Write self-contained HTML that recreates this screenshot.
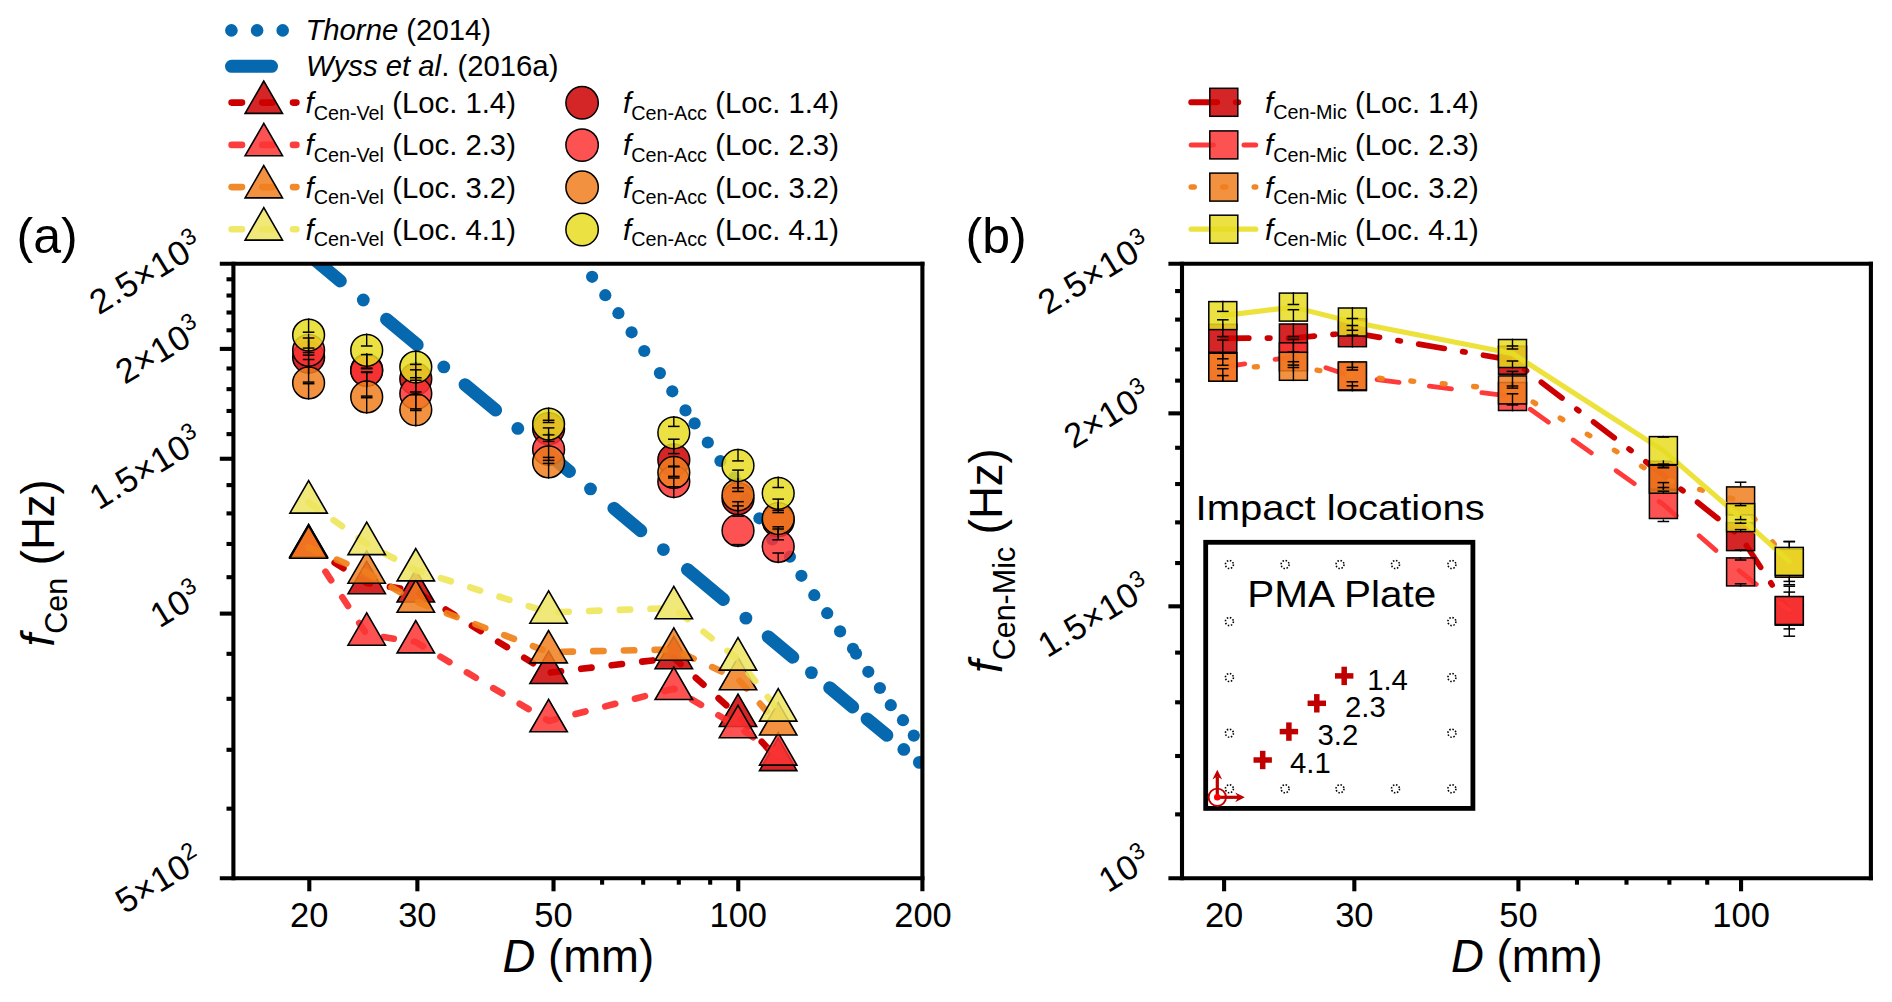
<!DOCTYPE html>
<html><head><meta charset="utf-8"><title>Centroid frequency</title><style>html,body{margin:0;padding:0;background:#fff;}svg{display:block;}</style></head><body>
<svg width="1892" height="1002" viewBox="0 0 1892 1002">
<rect x="0" y="0" width="1892" height="1002" fill="#fff"/>
<defs>
<clipPath id="clipA"><rect x="233.4" y="263.7" width="689.0" height="614.5999999999999"/></clipPath>
<clipPath id="clipB"><rect x="1182.0" y="263.7" width="688.9000000000001" height="614.5999999999999"/></clipPath>
</defs>
<g clip-path="url(#clipA)">
<circle cx="578.9" cy="258.0" r="6.1" fill="#0668ae"/>
<circle cx="592.1" cy="276.8" r="6.1" fill="#0668ae"/>
<circle cx="605.3" cy="295.2" r="6.1" fill="#0668ae"/>
<circle cx="618.4" cy="313.2" r="6.1" fill="#0668ae"/>
<circle cx="631.6" cy="332.3" r="6.1" fill="#0668ae"/>
<circle cx="644.3" cy="351.0" r="6.1" fill="#0668ae"/>
<circle cx="659.9" cy="373.1" r="6.1" fill="#0668ae"/>
<circle cx="672.3" cy="391.3" r="6.1" fill="#0668ae"/>
<circle cx="685.5" cy="410.4" r="6.1" fill="#0668ae"/>
<circle cx="694.6" cy="423.4" r="6.1" fill="#0668ae"/>
<circle cx="707.8" cy="442.5" r="6.1" fill="#0668ae"/>
<circle cx="720.4" cy="461.0" r="6.1" fill="#0668ae"/>
<circle cx="734.3" cy="477.6" r="6.1" fill="#0668ae"/>
<circle cx="746.5" cy="499.0" r="6.1" fill="#0668ae"/>
<circle cx="759.4" cy="518.3" r="6.1" fill="#0668ae"/>
<circle cx="772.3" cy="539.5" r="6.1" fill="#0668ae"/>
<circle cx="789.9" cy="556.7" r="6.1" fill="#0668ae"/>
<circle cx="801.4" cy="575.8" r="6.1" fill="#0668ae"/>
<circle cx="814.3" cy="595.2" r="6.1" fill="#0668ae"/>
<circle cx="827.2" cy="613.2" r="6.1" fill="#0668ae"/>
<circle cx="840.1" cy="631.4" r="6.1" fill="#0668ae"/>
<circle cx="853.0" cy="648.8" r="6.1" fill="#0668ae"/>
<circle cx="856.0" cy="653.6" r="6.1" fill="#0668ae"/>
<circle cx="868.3" cy="671.8" r="6.1" fill="#0668ae"/>
<circle cx="879.9" cy="688.0" r="6.1" fill="#0668ae"/>
<circle cx="890.8" cy="705.2" r="6.1" fill="#0668ae"/>
<circle cx="903.0" cy="720.2" r="6.1" fill="#0668ae"/>
<circle cx="913.8" cy="735.6" r="6.1" fill="#0668ae"/>
<line x1="300.00" y1="247.37" x2="340.30" y2="280.88" stroke="#0668ae" stroke-width="13" stroke-linecap="round" />
<line x1="386.50" y1="319.29" x2="417.20" y2="344.82" stroke="#0668ae" stroke-width="13" stroke-linecap="round" />
<line x1="465.10" y1="384.65" x2="495.60" y2="410.01" stroke="#0668ae" stroke-width="13" stroke-linecap="round" />
<line x1="546.00" y1="451.92" x2="569.50" y2="471.46" stroke="#0668ae" stroke-width="13" stroke-linecap="round" />
<line x1="613.90" y1="508.37" x2="640.80" y2="530.74" stroke="#0668ae" stroke-width="13" stroke-linecap="round" />
<line x1="687.50" y1="569.57" x2="723.40" y2="599.42" stroke="#0668ae" stroke-width="13" stroke-linecap="round" />
<line x1="768.20" y1="636.67" x2="792.80" y2="657.13" stroke="#0668ae" stroke-width="13" stroke-linecap="round" />
<line x1="829.70" y1="687.81" x2="852.70" y2="706.94" stroke="#0668ae" stroke-width="13" stroke-linecap="round" />
<line x1="867.10" y1="718.91" x2="886.90" y2="735.37" stroke="#0668ae" stroke-width="13" stroke-linecap="round" />
<circle cx="363.3" cy="300.00" r="6.4" fill="#0668ae"/>
<circle cx="443.8" cy="366.94" r="6.4" fill="#0668ae"/>
<circle cx="517.8" cy="428.47" r="6.4" fill="#0668ae"/>
<circle cx="590.5" cy="488.92" r="6.4" fill="#0668ae"/>
<circle cx="663.4" cy="549.53" r="6.4" fill="#0668ae"/>
<circle cx="745.9" cy="618.13" r="6.4" fill="#0668ae"/>
<circle cx="811.4" cy="672.60" r="6.4" fill="#0668ae"/>
<circle cx="903.8" cy="749.43" r="6.4" fill="#0668ae"/>
<circle cx="919.4" cy="762.40" r="6.4" fill="#0668ae"/>
</g>
<polyline points="308.60,546.50 366.70,582.90 415.80,591.20 548.60,672.70 673.80,657.90 738.00,715.70 778.20,759.80" fill="none" stroke="#cc0000" stroke-width="6.6" stroke-linecap="round" stroke-linejoin="round" stroke-dasharray="10.4 20.3" stroke-opacity="1.0"/>
<polygon points="308.60,524.91 289.90,557.30 327.30,557.30" fill="#cc0000" fill-opacity="0.85" stroke="#000" stroke-width="1.6" stroke-linejoin="miter"/>
<polygon points="366.70,561.31 348.00,593.70 385.40,593.70" fill="#cc0000" fill-opacity="0.85" stroke="#000" stroke-width="1.6" stroke-linejoin="miter"/>
<polygon points="415.80,569.61 397.10,602.00 434.50,602.00" fill="#cc0000" fill-opacity="0.85" stroke="#000" stroke-width="1.6" stroke-linejoin="miter"/>
<polygon points="548.60,651.11 529.90,683.50 567.30,683.50" fill="#cc0000" fill-opacity="0.85" stroke="#000" stroke-width="1.6" stroke-linejoin="miter"/>
<polygon points="673.80,636.31 655.10,668.70 692.50,668.70" fill="#cc0000" fill-opacity="0.85" stroke="#000" stroke-width="1.6" stroke-linejoin="miter"/>
<polygon points="738.00,694.11 719.30,726.50 756.70,726.50" fill="#cc0000" fill-opacity="0.85" stroke="#000" stroke-width="1.6" stroke-linejoin="miter"/>
<polygon points="778.20,738.21 759.50,770.60 796.90,770.60" fill="#cc0000" fill-opacity="0.85" stroke="#000" stroke-width="1.6" stroke-linejoin="miter"/>
<polyline points="308.60,546.00 366.70,634.40 415.80,642.10 548.60,721.00 673.80,688.70 738.00,726.90 778.20,754.30" fill="none" stroke="#fc2c2c" stroke-width="6.6" stroke-linecap="round" stroke-linejoin="round" stroke-dasharray="10.4 20.3" stroke-opacity="0.92"/>
<polygon points="308.60,524.41 289.90,556.80 327.30,556.80" fill="#fb3434" fill-opacity="0.85" stroke="#000" stroke-width="1.6" stroke-linejoin="miter"/>
<polygon points="366.70,612.81 348.00,645.20 385.40,645.20" fill="#fb3434" fill-opacity="0.85" stroke="#000" stroke-width="1.6" stroke-linejoin="miter"/>
<polygon points="415.80,620.51 397.10,652.90 434.50,652.90" fill="#fb3434" fill-opacity="0.85" stroke="#000" stroke-width="1.6" stroke-linejoin="miter"/>
<polygon points="548.60,699.41 529.90,731.80 567.30,731.80" fill="#fb3434" fill-opacity="0.85" stroke="#000" stroke-width="1.6" stroke-linejoin="miter"/>
<polygon points="673.80,667.11 655.10,699.50 692.50,699.50" fill="#fb3434" fill-opacity="0.85" stroke="#000" stroke-width="1.6" stroke-linejoin="miter"/>
<polygon points="738.00,705.31 719.30,737.70 756.70,737.70" fill="#fb3434" fill-opacity="0.85" stroke="#000" stroke-width="1.6" stroke-linejoin="miter"/>
<polygon points="778.20,732.71 759.50,765.10 796.90,765.10" fill="#fb3434" fill-opacity="0.85" stroke="#000" stroke-width="1.6" stroke-linejoin="miter"/>
<polyline points="308.60,547.50 366.70,572.40 415.80,601.50 548.60,652.10 673.80,649.50 738.00,679.00 778.20,724.20" fill="none" stroke="#f08018" stroke-width="6.6" stroke-linecap="round" stroke-linejoin="round" stroke-dasharray="10.4 20.3" stroke-opacity="0.92"/>
<polygon points="308.60,525.91 289.90,558.30 327.30,558.30" fill="#f07e1e" fill-opacity="0.85" stroke="#000" stroke-width="1.6" stroke-linejoin="miter"/>
<polygon points="366.70,550.81 348.00,583.20 385.40,583.20" fill="#f07e1e" fill-opacity="0.85" stroke="#000" stroke-width="1.6" stroke-linejoin="miter"/>
<polygon points="415.80,579.91 397.10,612.30 434.50,612.30" fill="#f07e1e" fill-opacity="0.85" stroke="#000" stroke-width="1.6" stroke-linejoin="miter"/>
<polygon points="548.60,630.51 529.90,662.90 567.30,662.90" fill="#f07e1e" fill-opacity="0.85" stroke="#000" stroke-width="1.6" stroke-linejoin="miter"/>
<polygon points="673.80,627.91 655.10,660.30 692.50,660.30" fill="#f07e1e" fill-opacity="0.85" stroke="#000" stroke-width="1.6" stroke-linejoin="miter"/>
<polygon points="738.00,657.41 719.30,689.80 756.70,689.80" fill="#f07e1e" fill-opacity="0.85" stroke="#000" stroke-width="1.6" stroke-linejoin="miter"/>
<polygon points="778.20,702.61 759.50,735.00 796.90,735.00" fill="#f07e1e" fill-opacity="0.85" stroke="#000" stroke-width="1.6" stroke-linejoin="miter"/>
<polyline points="308.60,502.30 366.70,543.80 415.80,570.10 548.60,612.40 673.80,608.00 738.00,659.30 778.20,710.30" fill="none" stroke="#eee558" stroke-width="6.6" stroke-linecap="round" stroke-linejoin="round" stroke-dasharray="10.4 20.3" stroke-opacity="0.9"/>
<polygon points="308.60,480.71 289.90,513.10 327.30,513.10" fill="#ede460" fill-opacity="0.85" stroke="#000" stroke-width="1.6" stroke-linejoin="miter"/>
<polygon points="366.70,522.21 348.00,554.60 385.40,554.60" fill="#ede460" fill-opacity="0.85" stroke="#000" stroke-width="1.6" stroke-linejoin="miter"/>
<polygon points="415.80,548.51 397.10,580.90 434.50,580.90" fill="#ede460" fill-opacity="0.85" stroke="#000" stroke-width="1.6" stroke-linejoin="miter"/>
<polygon points="548.60,590.81 529.90,623.20 567.30,623.20" fill="#ede460" fill-opacity="0.85" stroke="#000" stroke-width="1.6" stroke-linejoin="miter"/>
<polygon points="673.80,586.41 655.10,618.80 692.50,618.80" fill="#ede460" fill-opacity="0.85" stroke="#000" stroke-width="1.6" stroke-linejoin="miter"/>
<polygon points="738.00,637.71 719.30,670.10 756.70,670.10" fill="#ede460" fill-opacity="0.85" stroke="#000" stroke-width="1.6" stroke-linejoin="miter"/>
<polygon points="778.20,688.71 759.50,721.10 796.90,721.10" fill="#ede460" fill-opacity="0.85" stroke="#000" stroke-width="1.6" stroke-linejoin="miter"/>
<circle cx="308.6" cy="357.3" r="15.9" fill="#cc0000" fill-opacity="0.85" stroke="#000" stroke-width="1.5"/>
<circle cx="366.7" cy="370.0" r="15.9" fill="#cc0000" fill-opacity="0.85" stroke="#000" stroke-width="1.5"/>
<circle cx="415.8" cy="379.0" r="15.9" fill="#cc0000" fill-opacity="0.85" stroke="#000" stroke-width="1.5"/>
<circle cx="548.6" cy="428.7" r="15.9" fill="#cc0000" fill-opacity="0.85" stroke="#000" stroke-width="1.5"/>
<circle cx="673.8" cy="459.9" r="15.9" fill="#cc0000" fill-opacity="0.85" stroke="#000" stroke-width="1.5"/>
<circle cx="738.0" cy="498.7" r="15.9" fill="#cc0000" fill-opacity="0.85" stroke="#000" stroke-width="1.5"/>
<circle cx="778.2" cy="520.8" r="15.9" fill="#cc0000" fill-opacity="0.85" stroke="#000" stroke-width="1.5"/>
<circle cx="308.6" cy="350.3" r="15.9" fill="#fb3434" fill-opacity="0.85" stroke="#000" stroke-width="1.5"/>
<circle cx="366.7" cy="370.6" r="15.9" fill="#fb3434" fill-opacity="0.85" stroke="#000" stroke-width="1.5"/>
<circle cx="415.8" cy="393.4" r="15.9" fill="#fb3434" fill-opacity="0.85" stroke="#000" stroke-width="1.5"/>
<circle cx="548.6" cy="449.4" r="15.9" fill="#fb3434" fill-opacity="0.85" stroke="#000" stroke-width="1.5"/>
<circle cx="673.8" cy="481.6" r="15.9" fill="#fb3434" fill-opacity="0.85" stroke="#000" stroke-width="1.5"/>
<circle cx="738.0" cy="530.4" r="15.9" fill="#fb3434" fill-opacity="0.85" stroke="#000" stroke-width="1.5"/>
<circle cx="778.2" cy="546.4" r="15.9" fill="#fb3434" fill-opacity="0.85" stroke="#000" stroke-width="1.5"/>
<circle cx="308.6" cy="382.9" r="15.9" fill="#f07e1e" fill-opacity="0.85" stroke="#000" stroke-width="1.5"/>
<circle cx="366.7" cy="396.9" r="15.9" fill="#f07e1e" fill-opacity="0.85" stroke="#000" stroke-width="1.5"/>
<circle cx="415.8" cy="409.7" r="15.9" fill="#f07e1e" fill-opacity="0.85" stroke="#000" stroke-width="1.5"/>
<circle cx="548.6" cy="461.9" r="15.9" fill="#f07e1e" fill-opacity="0.85" stroke="#000" stroke-width="1.5"/>
<circle cx="673.8" cy="472.4" r="15.9" fill="#f07e1e" fill-opacity="0.85" stroke="#000" stroke-width="1.5"/>
<circle cx="738.0" cy="494.8" r="15.9" fill="#f07e1e" fill-opacity="0.85" stroke="#000" stroke-width="1.5"/>
<circle cx="778.2" cy="518.6" r="15.9" fill="#f07e1e" fill-opacity="0.85" stroke="#000" stroke-width="1.5"/>
<circle cx="308.6" cy="335.1" r="15.9" fill="#e8dc22" fill-opacity="0.85" stroke="#000" stroke-width="1.5"/>
<circle cx="366.7" cy="350.3" r="15.9" fill="#e8dc22" fill-opacity="0.85" stroke="#000" stroke-width="1.5"/>
<circle cx="415.8" cy="367.1" r="15.9" fill="#e8dc22" fill-opacity="0.85" stroke="#000" stroke-width="1.5"/>
<circle cx="548.6" cy="424.1" r="15.9" fill="#e8dc22" fill-opacity="0.85" stroke="#000" stroke-width="1.5"/>
<circle cx="673.8" cy="432.8" r="15.9" fill="#e8dc22" fill-opacity="0.85" stroke="#000" stroke-width="1.5"/>
<circle cx="738.0" cy="465.5" r="15.9" fill="#e8dc22" fill-opacity="0.85" stroke="#000" stroke-width="1.5"/>
<circle cx="778.2" cy="493.3" r="15.9" fill="#e8dc22" fill-opacity="0.85" stroke="#000" stroke-width="1.5"/>
<line x1="308.60" y1="340.55" x2="308.60" y2="355.10" stroke="#000" stroke-width="1.4" stroke-linecap="butt" />
<line x1="308.60" y1="359.50" x2="308.60" y2="374.05" stroke="#000" stroke-width="1.4" stroke-linecap="butt" />
<line x1="302.80" y1="355.10" x2="314.40" y2="355.10" stroke="#000" stroke-width="1.5" stroke-linecap="butt" />
<line x1="302.80" y1="359.50" x2="314.40" y2="359.50" stroke="#000" stroke-width="1.5" stroke-linecap="butt" />
<line x1="366.70" y1="353.25" x2="366.70" y2="368.10" stroke="#000" stroke-width="1.4" stroke-linecap="butt" />
<line x1="366.70" y1="371.90" x2="366.70" y2="386.75" stroke="#000" stroke-width="1.4" stroke-linecap="butt" />
<line x1="360.90" y1="368.10" x2="372.50" y2="368.10" stroke="#000" stroke-width="1.5" stroke-linecap="butt" />
<line x1="360.90" y1="371.90" x2="372.50" y2="371.90" stroke="#000" stroke-width="1.5" stroke-linecap="butt" />
<line x1="415.80" y1="362.25" x2="415.80" y2="377.70" stroke="#000" stroke-width="1.4" stroke-linecap="butt" />
<line x1="415.80" y1="380.30" x2="415.80" y2="395.75" stroke="#000" stroke-width="1.4" stroke-linecap="butt" />
<line x1="410.00" y1="377.70" x2="421.60" y2="377.70" stroke="#000" stroke-width="1.5" stroke-linecap="butt" />
<line x1="410.00" y1="380.30" x2="421.60" y2="380.30" stroke="#000" stroke-width="1.5" stroke-linecap="butt" />
<line x1="548.60" y1="411.95" x2="548.60" y2="422.50" stroke="#000" stroke-width="1.4" stroke-linecap="butt" />
<line x1="548.60" y1="434.90" x2="548.60" y2="445.45" stroke="#000" stroke-width="1.4" stroke-linecap="butt" />
<line x1="542.80" y1="422.50" x2="554.40" y2="422.50" stroke="#000" stroke-width="1.5" stroke-linecap="butt" />
<line x1="542.80" y1="434.90" x2="554.40" y2="434.90" stroke="#000" stroke-width="1.5" stroke-linecap="butt" />
<line x1="673.80" y1="443.15" x2="673.80" y2="453.60" stroke="#000" stroke-width="1.4" stroke-linecap="butt" />
<line x1="673.80" y1="466.20" x2="673.80" y2="476.65" stroke="#000" stroke-width="1.4" stroke-linecap="butt" />
<line x1="668.00" y1="453.60" x2="679.60" y2="453.60" stroke="#000" stroke-width="1.5" stroke-linecap="butt" />
<line x1="668.00" y1="466.20" x2="679.60" y2="466.20" stroke="#000" stroke-width="1.5" stroke-linecap="butt" />
<line x1="738.00" y1="481.95" x2="738.00" y2="491.50" stroke="#000" stroke-width="1.4" stroke-linecap="butt" />
<line x1="738.00" y1="505.90" x2="738.00" y2="515.45" stroke="#000" stroke-width="1.4" stroke-linecap="butt" />
<line x1="732.20" y1="491.50" x2="743.80" y2="491.50" stroke="#000" stroke-width="1.5" stroke-linecap="butt" />
<line x1="732.20" y1="505.90" x2="743.80" y2="505.90" stroke="#000" stroke-width="1.5" stroke-linecap="butt" />
<line x1="778.20" y1="504.05" x2="778.20" y2="512.60" stroke="#000" stroke-width="1.4" stroke-linecap="butt" />
<line x1="778.20" y1="529.00" x2="778.20" y2="537.55" stroke="#000" stroke-width="1.4" stroke-linecap="butt" />
<line x1="772.40" y1="512.60" x2="784.00" y2="512.60" stroke="#000" stroke-width="1.5" stroke-linecap="butt" />
<line x1="772.40" y1="529.00" x2="784.00" y2="529.00" stroke="#000" stroke-width="1.5" stroke-linecap="butt" />
<line x1="308.60" y1="333.55" x2="308.60" y2="348.10" stroke="#000" stroke-width="1.4" stroke-linecap="butt" />
<line x1="308.60" y1="352.50" x2="308.60" y2="367.05" stroke="#000" stroke-width="1.4" stroke-linecap="butt" />
<line x1="302.80" y1="348.10" x2="314.40" y2="348.10" stroke="#000" stroke-width="1.5" stroke-linecap="butt" />
<line x1="302.80" y1="352.50" x2="314.40" y2="352.50" stroke="#000" stroke-width="1.5" stroke-linecap="butt" />
<line x1="366.70" y1="353.85" x2="366.70" y2="368.70" stroke="#000" stroke-width="1.4" stroke-linecap="butt" />
<line x1="366.70" y1="372.50" x2="366.70" y2="387.35" stroke="#000" stroke-width="1.4" stroke-linecap="butt" />
<line x1="360.90" y1="368.70" x2="372.50" y2="368.70" stroke="#000" stroke-width="1.5" stroke-linecap="butt" />
<line x1="360.90" y1="372.50" x2="372.50" y2="372.50" stroke="#000" stroke-width="1.5" stroke-linecap="butt" />
<line x1="415.80" y1="376.65" x2="415.80" y2="392.00" stroke="#000" stroke-width="1.4" stroke-linecap="butt" />
<line x1="415.80" y1="394.80" x2="415.80" y2="410.15" stroke="#000" stroke-width="1.4" stroke-linecap="butt" />
<line x1="410.00" y1="392.00" x2="421.60" y2="392.00" stroke="#000" stroke-width="1.5" stroke-linecap="butt" />
<line x1="410.00" y1="394.80" x2="421.60" y2="394.80" stroke="#000" stroke-width="1.5" stroke-linecap="butt" />
<line x1="548.60" y1="432.65" x2="548.60" y2="441.40" stroke="#000" stroke-width="1.4" stroke-linecap="butt" />
<line x1="548.60" y1="457.40" x2="548.60" y2="466.15" stroke="#000" stroke-width="1.4" stroke-linecap="butt" />
<line x1="542.80" y1="441.40" x2="554.40" y2="441.40" stroke="#000" stroke-width="1.5" stroke-linecap="butt" />
<line x1="542.80" y1="457.40" x2="554.40" y2="457.40" stroke="#000" stroke-width="1.5" stroke-linecap="butt" />
<line x1="673.80" y1="464.85" x2="673.80" y2="476.40" stroke="#000" stroke-width="1.4" stroke-linecap="butt" />
<line x1="673.80" y1="486.80" x2="673.80" y2="498.35" stroke="#000" stroke-width="1.4" stroke-linecap="butt" />
<line x1="668.00" y1="476.40" x2="679.60" y2="476.40" stroke="#000" stroke-width="1.5" stroke-linecap="butt" />
<line x1="668.00" y1="486.80" x2="679.60" y2="486.80" stroke="#000" stroke-width="1.5" stroke-linecap="butt" />
<line x1="738.00" y1="513.65" x2="738.00" y2="516.20" stroke="#000" stroke-width="1.4" stroke-linecap="butt" />
<line x1="738.00" y1="544.60" x2="738.00" y2="547.15" stroke="#000" stroke-width="1.4" stroke-linecap="butt" />
<line x1="732.20" y1="516.20" x2="743.80" y2="516.20" stroke="#000" stroke-width="1.5" stroke-linecap="butt" />
<line x1="732.20" y1="544.60" x2="743.80" y2="544.60" stroke="#000" stroke-width="1.5" stroke-linecap="butt" />
<line x1="778.20" y1="529.65" x2="778.20" y2="539.80" stroke="#000" stroke-width="1.4" stroke-linecap="butt" />
<line x1="778.20" y1="553.00" x2="778.20" y2="563.15" stroke="#000" stroke-width="1.4" stroke-linecap="butt" />
<line x1="772.40" y1="539.80" x2="784.00" y2="539.80" stroke="#000" stroke-width="1.5" stroke-linecap="butt" />
<line x1="772.40" y1="553.00" x2="784.00" y2="553.00" stroke="#000" stroke-width="1.5" stroke-linecap="butt" />
<line x1="308.60" y1="366.15" x2="308.60" y2="382.10" stroke="#000" stroke-width="1.4" stroke-linecap="butt" />
<line x1="308.60" y1="383.70" x2="308.60" y2="399.65" stroke="#000" stroke-width="1.4" stroke-linecap="butt" />
<line x1="302.80" y1="382.10" x2="314.40" y2="382.10" stroke="#000" stroke-width="1.5" stroke-linecap="butt" />
<line x1="302.80" y1="383.70" x2="314.40" y2="383.70" stroke="#000" stroke-width="1.5" stroke-linecap="butt" />
<line x1="366.70" y1="380.15" x2="366.70" y2="396.10" stroke="#000" stroke-width="1.4" stroke-linecap="butt" />
<line x1="366.70" y1="397.70" x2="366.70" y2="413.65" stroke="#000" stroke-width="1.4" stroke-linecap="butt" />
<line x1="360.90" y1="396.10" x2="372.50" y2="396.10" stroke="#000" stroke-width="1.5" stroke-linecap="butt" />
<line x1="360.90" y1="397.70" x2="372.50" y2="397.70" stroke="#000" stroke-width="1.5" stroke-linecap="butt" />
<line x1="415.80" y1="392.95" x2="415.80" y2="408.90" stroke="#000" stroke-width="1.4" stroke-linecap="butt" />
<line x1="415.80" y1="410.50" x2="415.80" y2="426.45" stroke="#000" stroke-width="1.4" stroke-linecap="butt" />
<line x1="410.00" y1="408.90" x2="421.60" y2="408.90" stroke="#000" stroke-width="1.5" stroke-linecap="butt" />
<line x1="410.00" y1="410.50" x2="421.60" y2="410.50" stroke="#000" stroke-width="1.5" stroke-linecap="butt" />
<line x1="548.60" y1="445.15" x2="548.60" y2="460.40" stroke="#000" stroke-width="1.4" stroke-linecap="butt" />
<line x1="548.60" y1="463.40" x2="548.60" y2="478.65" stroke="#000" stroke-width="1.4" stroke-linecap="butt" />
<line x1="542.80" y1="460.40" x2="554.40" y2="460.40" stroke="#000" stroke-width="1.5" stroke-linecap="butt" />
<line x1="542.80" y1="463.40" x2="554.40" y2="463.40" stroke="#000" stroke-width="1.5" stroke-linecap="butt" />
<line x1="673.80" y1="455.65" x2="673.80" y2="466.80" stroke="#000" stroke-width="1.4" stroke-linecap="butt" />
<line x1="673.80" y1="478.00" x2="673.80" y2="489.15" stroke="#000" stroke-width="1.4" stroke-linecap="butt" />
<line x1="668.00" y1="466.80" x2="679.60" y2="466.80" stroke="#000" stroke-width="1.5" stroke-linecap="butt" />
<line x1="668.00" y1="478.00" x2="679.60" y2="478.00" stroke="#000" stroke-width="1.5" stroke-linecap="butt" />
<line x1="738.00" y1="478.05" x2="738.00" y2="487.90" stroke="#000" stroke-width="1.4" stroke-linecap="butt" />
<line x1="738.00" y1="501.70" x2="738.00" y2="511.55" stroke="#000" stroke-width="1.4" stroke-linecap="butt" />
<line x1="732.20" y1="487.90" x2="743.80" y2="487.90" stroke="#000" stroke-width="1.5" stroke-linecap="butt" />
<line x1="732.20" y1="501.70" x2="743.80" y2="501.70" stroke="#000" stroke-width="1.5" stroke-linecap="butt" />
<line x1="778.20" y1="501.85" x2="778.20" y2="510.40" stroke="#000" stroke-width="1.4" stroke-linecap="butt" />
<line x1="778.20" y1="526.80" x2="778.20" y2="535.35" stroke="#000" stroke-width="1.4" stroke-linecap="butt" />
<line x1="772.40" y1="510.40" x2="784.00" y2="510.40" stroke="#000" stroke-width="1.5" stroke-linecap="butt" />
<line x1="772.40" y1="526.80" x2="784.00" y2="526.80" stroke="#000" stroke-width="1.5" stroke-linecap="butt" />
<line x1="308.60" y1="318.35" x2="308.60" y2="332.20" stroke="#000" stroke-width="1.4" stroke-linecap="butt" />
<line x1="308.60" y1="338.00" x2="308.60" y2="351.85" stroke="#000" stroke-width="1.4" stroke-linecap="butt" />
<line x1="302.80" y1="332.20" x2="314.40" y2="332.20" stroke="#000" stroke-width="1.5" stroke-linecap="butt" />
<line x1="302.80" y1="338.00" x2="314.40" y2="338.00" stroke="#000" stroke-width="1.5" stroke-linecap="butt" />
<line x1="366.70" y1="333.55" x2="366.70" y2="346.00" stroke="#000" stroke-width="1.4" stroke-linecap="butt" />
<line x1="366.70" y1="354.60" x2="366.70" y2="367.05" stroke="#000" stroke-width="1.4" stroke-linecap="butt" />
<line x1="360.90" y1="346.00" x2="372.50" y2="346.00" stroke="#000" stroke-width="1.5" stroke-linecap="butt" />
<line x1="360.90" y1="354.60" x2="372.50" y2="354.60" stroke="#000" stroke-width="1.5" stroke-linecap="butt" />
<line x1="415.80" y1="350.35" x2="415.80" y2="364.40" stroke="#000" stroke-width="1.4" stroke-linecap="butt" />
<line x1="415.80" y1="369.80" x2="415.80" y2="383.85" stroke="#000" stroke-width="1.4" stroke-linecap="butt" />
<line x1="410.00" y1="364.40" x2="421.60" y2="364.40" stroke="#000" stroke-width="1.5" stroke-linecap="butt" />
<line x1="410.00" y1="369.80" x2="421.60" y2="369.80" stroke="#000" stroke-width="1.5" stroke-linecap="butt" />
<line x1="548.60" y1="407.35" x2="548.60" y2="420.30" stroke="#000" stroke-width="1.4" stroke-linecap="butt" />
<line x1="548.60" y1="427.90" x2="548.60" y2="440.85" stroke="#000" stroke-width="1.4" stroke-linecap="butt" />
<line x1="542.80" y1="420.30" x2="554.40" y2="420.30" stroke="#000" stroke-width="1.5" stroke-linecap="butt" />
<line x1="542.80" y1="427.90" x2="554.40" y2="427.90" stroke="#000" stroke-width="1.5" stroke-linecap="butt" />
<line x1="673.80" y1="416.05" x2="673.80" y2="426.40" stroke="#000" stroke-width="1.4" stroke-linecap="butt" />
<line x1="673.80" y1="439.20" x2="673.80" y2="449.55" stroke="#000" stroke-width="1.4" stroke-linecap="butt" />
<line x1="668.00" y1="426.40" x2="679.60" y2="426.40" stroke="#000" stroke-width="1.5" stroke-linecap="butt" />
<line x1="668.00" y1="439.20" x2="679.60" y2="439.20" stroke="#000" stroke-width="1.5" stroke-linecap="butt" />
<line x1="738.00" y1="448.75" x2="738.00" y2="460.90" stroke="#000" stroke-width="1.4" stroke-linecap="butt" />
<line x1="738.00" y1="470.10" x2="738.00" y2="482.25" stroke="#000" stroke-width="1.4" stroke-linecap="butt" />
<line x1="732.20" y1="460.90" x2="743.80" y2="460.90" stroke="#000" stroke-width="1.5" stroke-linecap="butt" />
<line x1="732.20" y1="470.10" x2="743.80" y2="470.10" stroke="#000" stroke-width="1.5" stroke-linecap="butt" />
<line x1="778.20" y1="476.55" x2="778.20" y2="487.50" stroke="#000" stroke-width="1.4" stroke-linecap="butt" />
<line x1="778.20" y1="499.10" x2="778.20" y2="510.05" stroke="#000" stroke-width="1.4" stroke-linecap="butt" />
<line x1="772.40" y1="487.50" x2="784.00" y2="487.50" stroke="#000" stroke-width="1.5" stroke-linecap="butt" />
<line x1="772.40" y1="499.10" x2="784.00" y2="499.10" stroke="#000" stroke-width="1.5" stroke-linecap="butt" />
<line x1="219.80" y1="263.70" x2="924.45" y2="263.70" stroke="#000" stroke-width="4.1" stroke-linecap="butt" />
<line x1="219.80" y1="878.30" x2="924.45" y2="878.30" stroke="#000" stroke-width="4.1" stroke-linecap="butt" />
<line x1="233.40" y1="261.65" x2="233.40" y2="880.35" stroke="#000" stroke-width="4.1" stroke-linecap="butt" />
<line x1="922.40" y1="261.65" x2="922.40" y2="891.30" stroke="#000" stroke-width="4.1" stroke-linecap="butt" />
<line x1="219.80" y1="348.90" x2="233.40" y2="348.90" stroke="#000" stroke-width="4.1" stroke-linecap="butt" />
<line x1="219.80" y1="458.76" x2="233.40" y2="458.76" stroke="#000" stroke-width="4.1" stroke-linecap="butt" />
<line x1="219.80" y1="613.60" x2="233.40" y2="613.60" stroke="#000" stroke-width="4.1" stroke-linecap="butt" />
<line x1="226.50" y1="808.67" x2="233.40" y2="808.67" stroke="#000" stroke-width="4.1" stroke-linecap="butt" />
<line x1="226.50" y1="749.81" x2="233.40" y2="749.81" stroke="#000" stroke-width="4.1" stroke-linecap="butt" />
<line x1="226.50" y1="698.81" x2="233.40" y2="698.81" stroke="#000" stroke-width="4.1" stroke-linecap="butt" />
<line x1="226.50" y1="653.83" x2="233.40" y2="653.83" stroke="#000" stroke-width="4.1" stroke-linecap="butt" />
<line x1="226.50" y1="577.20" x2="233.40" y2="577.20" stroke="#000" stroke-width="4.1" stroke-linecap="butt" />
<line x1="226.50" y1="543.98" x2="233.40" y2="543.98" stroke="#000" stroke-width="4.1" stroke-linecap="butt" />
<line x1="226.50" y1="513.41" x2="233.40" y2="513.41" stroke="#000" stroke-width="4.1" stroke-linecap="butt" />
<line x1="226.50" y1="485.11" x2="233.40" y2="485.11" stroke="#000" stroke-width="4.1" stroke-linecap="butt" />
<line x1="226.50" y1="434.12" x2="233.40" y2="434.12" stroke="#000" stroke-width="4.1" stroke-linecap="butt" />
<line x1="226.50" y1="410.97" x2="233.40" y2="410.97" stroke="#000" stroke-width="4.1" stroke-linecap="butt" />
<line x1="226.50" y1="389.14" x2="233.40" y2="389.14" stroke="#000" stroke-width="4.1" stroke-linecap="butt" />
<line x1="226.50" y1="368.49" x2="233.40" y2="368.49" stroke="#000" stroke-width="4.1" stroke-linecap="butt" />
<line x1="226.50" y1="330.27" x2="233.40" y2="330.27" stroke="#000" stroke-width="4.1" stroke-linecap="butt" />
<line x1="226.50" y1="312.51" x2="233.40" y2="312.51" stroke="#000" stroke-width="4.1" stroke-linecap="butt" />
<line x1="226.50" y1="295.53" x2="233.40" y2="295.53" stroke="#000" stroke-width="4.1" stroke-linecap="butt" />
<line x1="226.50" y1="279.28" x2="233.40" y2="279.28" stroke="#000" stroke-width="4.1" stroke-linecap="butt" />
<line x1="309.30" y1="878.30" x2="309.30" y2="891.30" stroke="#000" stroke-width="4.1" stroke-linecap="butt" />
<line x1="417.37" y1="878.30" x2="417.37" y2="891.30" stroke="#000" stroke-width="4.1" stroke-linecap="butt" />
<line x1="553.52" y1="878.30" x2="553.52" y2="891.30" stroke="#000" stroke-width="4.1" stroke-linecap="butt" />
<line x1="738.26" y1="878.30" x2="738.26" y2="891.30" stroke="#000" stroke-width="4.1" stroke-linecap="butt" />
<line x1="602.11" y1="878.30" x2="602.11" y2="884.70" stroke="#000" stroke-width="4.1" stroke-linecap="butt" />
<line x1="643.19" y1="878.30" x2="643.19" y2="884.70" stroke="#000" stroke-width="4.1" stroke-linecap="butt" />
<line x1="678.78" y1="878.30" x2="678.78" y2="884.70" stroke="#000" stroke-width="4.1" stroke-linecap="butt" />
<line x1="710.18" y1="878.30" x2="710.18" y2="884.70" stroke="#000" stroke-width="4.1" stroke-linecap="butt" />
<text x="309.30" y="927.30" font-family="Liberation Sans, sans-serif" font-size="34.5" text-anchor="middle" >20</text>
<text x="417.37" y="927.30" font-family="Liberation Sans, sans-serif" font-size="34.5" text-anchor="middle" >30</text>
<text x="553.52" y="927.30" font-family="Liberation Sans, sans-serif" font-size="34.5" text-anchor="middle" >50</text>
<text x="738.26" y="927.30" font-family="Liberation Sans, sans-serif" font-size="34.5" text-anchor="middle" >100</text>
<text x="923.00" y="927.30" font-family="Liberation Sans, sans-serif" font-size="34.5" text-anchor="middle" >200</text>
<text x="1224.10" y="927.30" font-family="Liberation Sans, sans-serif" font-size="34.5" text-anchor="middle" >20</text>
<text x="1354.34" y="927.30" font-family="Liberation Sans, sans-serif" font-size="34.5" text-anchor="middle" >30</text>
<text x="1518.42" y="927.30" font-family="Liberation Sans, sans-serif" font-size="34.5" text-anchor="middle" >50</text>
<text x="1741.06" y="927.30" font-family="Liberation Sans, sans-serif" font-size="34.5" text-anchor="middle" >100</text>
<g transform="translate(205.50,250.89) rotate(-31.2)"><text x="0" y="0" font-family="Liberation Sans, sans-serif" font-size="34.5" text-anchor="end" letter-spacing="0.75">2.5&#215;10<tspan font-size="23.5" dy="-13.0">3</tspan></text></g>
<g transform="translate(205.50,336.10) rotate(-31.2)"><text x="0" y="0" font-family="Liberation Sans, sans-serif" font-size="34.5" text-anchor="end" letter-spacing="0.75">2&#215;10<tspan font-size="23.5" dy="-13.0">3</tspan></text></g>
<g transform="translate(205.50,445.96) rotate(-31.2)"><text x="0" y="0" font-family="Liberation Sans, sans-serif" font-size="34.5" text-anchor="end" letter-spacing="0.75">1.5&#215;10<tspan font-size="23.5" dy="-13.0">3</tspan></text></g>
<g transform="translate(205.50,600.80) rotate(-31.2)"><text x="0" y="0" font-family="Liberation Sans, sans-serif" font-size="34.5" text-anchor="end" letter-spacing="0.75">10<tspan font-size="23.5" dy="-13.0">3</tspan></text></g>
<g transform="translate(205.50,865.50) rotate(-31.2)"><text x="0" y="0" font-family="Liberation Sans, sans-serif" font-size="34.5" text-anchor="end" letter-spacing="0.75">5&#215;10<tspan font-size="23.5" dy="-13.0">2</tspan></text></g>
<g transform="translate(1154.00,250.88) rotate(-31.2)"><text x="0" y="0" font-family="Liberation Sans, sans-serif" font-size="34.5" text-anchor="end" letter-spacing="0.75">2.5&#215;10<tspan font-size="23.5" dy="-13.0">3</tspan></text></g>
<g transform="translate(1154.00,400.56) rotate(-31.2)"><text x="0" y="0" font-family="Liberation Sans, sans-serif" font-size="34.5" text-anchor="end" letter-spacing="0.75">2&#215;10<tspan font-size="23.5" dy="-13.0">3</tspan></text></g>
<g transform="translate(1154.00,593.53) rotate(-31.2)"><text x="0" y="0" font-family="Liberation Sans, sans-serif" font-size="34.5" text-anchor="end" letter-spacing="0.75">1.5&#215;10<tspan font-size="23.5" dy="-13.0">3</tspan></text></g>
<g transform="translate(1154.00,865.50) rotate(-31.2)"><text x="0" y="0" font-family="Liberation Sans, sans-serif" font-size="34.5" text-anchor="end" letter-spacing="0.75">10<tspan font-size="23.5" dy="-13.0">3</tspan></text></g>
<text x="578.3" y="971.8" font-family="Liberation Sans, sans-serif" font-size="45.5" text-anchor="middle"><tspan font-style="italic">D</tspan> (mm)</text>
<text x="1526.8" y="971.8" font-family="Liberation Sans, sans-serif" font-size="45.5" text-anchor="middle"><tspan font-style="italic">D</tspan> (mm)</text>
<g transform="translate(53.5,646.5) rotate(-90)"><text x="0" y="0" font-family="Liberation Sans, sans-serif" font-size="45.5"><tspan font-style="italic">f</tspan><tspan font-size="30.5" dy="13">Cen</tspan><tspan dy="-13"> (Hz)</tspan></text></g>
<g transform="translate(1001.5,673) rotate(-90)"><text x="0" y="0" font-family="Liberation Sans, sans-serif" font-size="45.5"><tspan font-style="italic">f</tspan><tspan font-size="30.5" dy="13">Cen-Mic</tspan><tspan dy="-13"> (Hz)</tspan></text></g>
<text x="16.50" y="252.70" font-family="Liberation Sans, sans-serif" font-size="50" text-anchor="start" >(a)</text>
<text x="965.50" y="252.70" font-family="Liberation Sans, sans-serif" font-size="50" text-anchor="start" >(b)</text>
<circle cx="231.4" cy="30.4" r="6.3" fill="#0668ae"/>
<circle cx="257.1" cy="30.4" r="6.3" fill="#0668ae"/>
<circle cx="282.7" cy="30.4" r="6.3" fill="#0668ae"/>
<text x="305.4" y="40.2" font-family="Liberation Sans, sans-serif" font-size="29.3"><tspan font-style="italic">Thorne</tspan> (2014)</text>
<line x1="231.50" y1="66.30" x2="271.50" y2="66.30" stroke="#0668ae" stroke-width="13" stroke-linecap="round" />
<text x="306" y="76" font-family="Liberation Sans, sans-serif" font-size="29.3"><tspan font-style="italic">Wyss et al</tspan>. (2016a)</text>
<line x1="231.6" y1="102.6" x2="296.4" y2="102.6" stroke="#cc0000" stroke-width="6.6" stroke-linecap="round" stroke-dasharray="10.4 20.3" stroke-opacity="1.0"/>
<polygon points="263.80,81.01 245.10,113.40 282.50,113.40" fill="#cc0000" fill-opacity="0.85" stroke="#000" stroke-width="1.6" stroke-linejoin="miter"/>
<text x="305.5" y="113.0" font-family="Liberation Sans, sans-serif" font-size="29.3"><tspan font-style="italic">f</tspan><tspan font-size="19.8" dy="6.7">Cen-Vel</tspan><tspan dy="-6.7"> (Loc. 1.4)</tspan></text>
<circle cx="582.1" cy="102.8" r="16.2" fill="#cc0000" fill-opacity="0.85" stroke="#000" stroke-width="1.5"/>
<text x="623" y="113.0" font-family="Liberation Sans, sans-serif" font-size="29.3"><tspan font-style="italic">f</tspan><tspan font-size="19.8" dy="6.7">Cen-Acc</tspan><tspan dy="-6.7"> (Loc. 1.4)</tspan></text>
<line x1="231.6" y1="144.9" x2="296.4" y2="144.9" stroke="#fc2c2c" stroke-width="6.6" stroke-linecap="round" stroke-dasharray="10.4 20.3" stroke-opacity="0.92"/>
<polygon points="263.80,123.31 245.10,155.70 282.50,155.70" fill="#fb3434" fill-opacity="0.85" stroke="#000" stroke-width="1.6" stroke-linejoin="miter"/>
<text x="305.5" y="155.3" font-family="Liberation Sans, sans-serif" font-size="29.3"><tspan font-style="italic">f</tspan><tspan font-size="19.8" dy="6.7">Cen-Vel</tspan><tspan dy="-6.7"> (Loc. 2.3)</tspan></text>
<circle cx="582.1" cy="145.1" r="16.2" fill="#fb3434" fill-opacity="0.85" stroke="#000" stroke-width="1.5"/>
<text x="623" y="155.3" font-family="Liberation Sans, sans-serif" font-size="29.3"><tspan font-style="italic">f</tspan><tspan font-size="19.8" dy="6.7">Cen-Acc</tspan><tspan dy="-6.7"> (Loc. 2.3)</tspan></text>
<line x1="231.6" y1="187.1" x2="296.4" y2="187.1" stroke="#f08018" stroke-width="6.6" stroke-linecap="round" stroke-dasharray="10.4 20.3" stroke-opacity="0.92"/>
<polygon points="263.80,165.51 245.10,197.90 282.50,197.90" fill="#f07e1e" fill-opacity="0.85" stroke="#000" stroke-width="1.6" stroke-linejoin="miter"/>
<text x="305.5" y="197.5" font-family="Liberation Sans, sans-serif" font-size="29.3"><tspan font-style="italic">f</tspan><tspan font-size="19.8" dy="6.7">Cen-Vel</tspan><tspan dy="-6.7"> (Loc. 3.2)</tspan></text>
<circle cx="582.1" cy="187.3" r="16.2" fill="#f07e1e" fill-opacity="0.85" stroke="#000" stroke-width="1.5"/>
<text x="623" y="197.5" font-family="Liberation Sans, sans-serif" font-size="29.3"><tspan font-style="italic">f</tspan><tspan font-size="19.8" dy="6.7">Cen-Acc</tspan><tspan dy="-6.7"> (Loc. 3.2)</tspan></text>
<line x1="231.6" y1="229.3" x2="296.4" y2="229.3" stroke="#eee558" stroke-width="6.6" stroke-linecap="round" stroke-dasharray="10.4 20.3" stroke-opacity="0.9"/>
<polygon points="263.80,207.71 245.10,240.10 282.50,240.10" fill="#ede460" fill-opacity="0.85" stroke="#000" stroke-width="1.6" stroke-linejoin="miter"/>
<text x="305.5" y="239.7" font-family="Liberation Sans, sans-serif" font-size="29.3"><tspan font-style="italic">f</tspan><tspan font-size="19.8" dy="6.7">Cen-Vel</tspan><tspan dy="-6.7"> (Loc. 4.1)</tspan></text>
<circle cx="582.1" cy="229.5" r="16.2" fill="#e8dc22" fill-opacity="0.85" stroke="#000" stroke-width="1.5"/>
<text x="623" y="239.7" font-family="Liberation Sans, sans-serif" font-size="29.3"><tspan font-style="italic">f</tspan><tspan font-size="19.8" dy="6.7">Cen-Acc</tspan><tspan dy="-6.7"> (Loc. 4.1)</tspan></text>
<polyline points="1222.80,338.30 1293.40,338.00 1352.40,332.70 1512.50,360.20 1663.40,475.20 1740.60,536.60 1789.30,611.20" fill="none" stroke="#cc0000" stroke-width="5.7" stroke-linecap="round" stroke-linejoin="round" stroke-dasharray="26 18.6 2.5 18.6" stroke-opacity="1.0"/>
<rect x="1208.80" y="324.30" width="28" height="28" fill="#cc0000" fill-opacity="0.85" stroke="#000" stroke-width="1.5"/>
<rect x="1279.40" y="324.00" width="28" height="28" fill="#cc0000" fill-opacity="0.85" stroke="#000" stroke-width="1.5"/>
<rect x="1338.40" y="318.70" width="28" height="28" fill="#cc0000" fill-opacity="0.85" stroke="#000" stroke-width="1.5"/>
<rect x="1498.50" y="346.20" width="28" height="28" fill="#cc0000" fill-opacity="0.85" stroke="#000" stroke-width="1.5"/>
<rect x="1649.40" y="461.20" width="28" height="28" fill="#cc0000" fill-opacity="0.85" stroke="#000" stroke-width="1.5"/>
<rect x="1726.60" y="522.60" width="28" height="28" fill="#cc0000" fill-opacity="0.85" stroke="#000" stroke-width="1.5"/>
<rect x="1775.30" y="597.20" width="28" height="28" fill="#cc0000" fill-opacity="0.85" stroke="#000" stroke-width="1.5"/>
<polyline points="1222.80,367.00 1293.40,356.80 1352.40,376.60 1512.50,396.50 1663.40,504.50 1740.60,571.90 1789.30,610.50" fill="none" stroke="#ff3232" stroke-width="4.8" stroke-linecap="round" stroke-linejoin="round" stroke-dasharray="22.2 30.6" stroke-opacity="0.96"/>
<rect x="1208.80" y="353.00" width="28" height="28" fill="#fb3434" fill-opacity="0.85" stroke="#000" stroke-width="1.5"/>
<rect x="1279.40" y="342.80" width="28" height="28" fill="#fb3434" fill-opacity="0.85" stroke="#000" stroke-width="1.5"/>
<rect x="1338.40" y="362.60" width="28" height="28" fill="#fb3434" fill-opacity="0.85" stroke="#000" stroke-width="1.5"/>
<rect x="1498.50" y="382.50" width="28" height="28" fill="#fb3434" fill-opacity="0.85" stroke="#000" stroke-width="1.5"/>
<rect x="1649.40" y="490.50" width="28" height="28" fill="#fb3434" fill-opacity="0.85" stroke="#000" stroke-width="1.5"/>
<rect x="1726.60" y="557.90" width="28" height="28" fill="#fb3434" fill-opacity="0.85" stroke="#000" stroke-width="1.5"/>
<rect x="1775.30" y="596.50" width="28" height="28" fill="#fb3434" fill-opacity="0.85" stroke="#000" stroke-width="1.5"/>
<polyline points="1222.80,367.20 1293.40,366.30 1352.40,375.90 1512.50,389.90 1663.40,479.20 1740.60,500.90 1789.30,563.20" fill="none" stroke="#f08018" stroke-width="5.3" stroke-linecap="round" stroke-linejoin="round" stroke-dasharray="3.0 28.5" stroke-opacity="0.95"/>
<rect x="1208.80" y="353.20" width="28" height="28" fill="#f07e1e" fill-opacity="0.85" stroke="#000" stroke-width="1.5"/>
<rect x="1279.40" y="352.30" width="28" height="28" fill="#f07e1e" fill-opacity="0.85" stroke="#000" stroke-width="1.5"/>
<rect x="1338.40" y="361.90" width="28" height="28" fill="#f07e1e" fill-opacity="0.85" stroke="#000" stroke-width="1.5"/>
<rect x="1498.50" y="375.90" width="28" height="28" fill="#f07e1e" fill-opacity="0.85" stroke="#000" stroke-width="1.5"/>
<rect x="1649.40" y="465.20" width="28" height="28" fill="#f07e1e" fill-opacity="0.85" stroke="#000" stroke-width="1.5"/>
<rect x="1726.60" y="486.90" width="28" height="28" fill="#f07e1e" fill-opacity="0.85" stroke="#000" stroke-width="1.5"/>
<rect x="1775.30" y="549.20" width="28" height="28" fill="#f07e1e" fill-opacity="0.85" stroke="#000" stroke-width="1.5"/>
<polyline points="1222.80,315.60 1293.40,307.10 1352.40,322.00 1512.50,353.50 1663.40,450.60 1740.60,517.60 1789.30,561.40" fill="none" stroke="#ebe030" stroke-width="5.1" stroke-linecap="round" stroke-linejoin="round" stroke-opacity="0.95"/>
<rect x="1208.80" y="301.60" width="28" height="28" fill="#e8dc22" fill-opacity="0.85" stroke="#000" stroke-width="1.5"/>
<rect x="1279.40" y="293.10" width="28" height="28" fill="#e8dc22" fill-opacity="0.85" stroke="#000" stroke-width="1.5"/>
<rect x="1338.40" y="308.00" width="28" height="28" fill="#e8dc22" fill-opacity="0.85" stroke="#000" stroke-width="1.5"/>
<rect x="1498.50" y="339.50" width="28" height="28" fill="#e8dc22" fill-opacity="0.85" stroke="#000" stroke-width="1.5"/>
<rect x="1649.40" y="436.60" width="28" height="28" fill="#e8dc22" fill-opacity="0.85" stroke="#000" stroke-width="1.5"/>
<rect x="1726.60" y="503.60" width="28" height="28" fill="#e8dc22" fill-opacity="0.85" stroke="#000" stroke-width="1.5"/>
<rect x="1775.30" y="547.40" width="28" height="28" fill="#e8dc22" fill-opacity="0.85" stroke="#000" stroke-width="1.5"/>
<line x1="1222.80" y1="323.45" x2="1222.80" y2="336.60" stroke="#000" stroke-width="1.4" stroke-linecap="butt" />
<line x1="1222.80" y1="340.00" x2="1222.80" y2="353.15" stroke="#000" stroke-width="1.4" stroke-linecap="butt" />
<line x1="1217.00" y1="336.60" x2="1228.60" y2="336.60" stroke="#000" stroke-width="1.5" stroke-linecap="butt" />
<line x1="1217.00" y1="340.00" x2="1228.60" y2="340.00" stroke="#000" stroke-width="1.5" stroke-linecap="butt" />
<line x1="1293.40" y1="323.15" x2="1293.40" y2="336.60" stroke="#000" stroke-width="1.4" stroke-linecap="butt" />
<line x1="1293.40" y1="339.40" x2="1293.40" y2="352.85" stroke="#000" stroke-width="1.4" stroke-linecap="butt" />
<line x1="1287.60" y1="336.60" x2="1299.20" y2="336.60" stroke="#000" stroke-width="1.5" stroke-linecap="butt" />
<line x1="1287.60" y1="339.40" x2="1299.20" y2="339.40" stroke="#000" stroke-width="1.5" stroke-linecap="butt" />
<line x1="1352.40" y1="317.85" x2="1352.40" y2="330.30" stroke="#000" stroke-width="1.4" stroke-linecap="butt" />
<line x1="1352.40" y1="335.10" x2="1352.40" y2="347.55" stroke="#000" stroke-width="1.4" stroke-linecap="butt" />
<line x1="1346.60" y1="330.30" x2="1358.20" y2="330.30" stroke="#000" stroke-width="1.5" stroke-linecap="butt" />
<line x1="1346.60" y1="335.10" x2="1358.20" y2="335.10" stroke="#000" stroke-width="1.5" stroke-linecap="butt" />
<line x1="1512.50" y1="345.35" x2="1512.50" y2="349.00" stroke="#000" stroke-width="1.4" stroke-linecap="butt" />
<line x1="1512.50" y1="371.40" x2="1512.50" y2="375.05" stroke="#000" stroke-width="1.4" stroke-linecap="butt" />
<line x1="1506.70" y1="349.00" x2="1518.30" y2="349.00" stroke="#000" stroke-width="1.5" stroke-linecap="butt" />
<line x1="1506.70" y1="371.40" x2="1518.30" y2="371.40" stroke="#000" stroke-width="1.5" stroke-linecap="butt" />
<line x1="1663.40" y1="460.35" x2="1663.40" y2="467.80" stroke="#000" stroke-width="1.4" stroke-linecap="butt" />
<line x1="1663.40" y1="482.60" x2="1663.40" y2="490.05" stroke="#000" stroke-width="1.4" stroke-linecap="butt" />
<line x1="1657.60" y1="467.80" x2="1669.20" y2="467.80" stroke="#000" stroke-width="1.5" stroke-linecap="butt" />
<line x1="1657.60" y1="482.60" x2="1669.20" y2="482.60" stroke="#000" stroke-width="1.5" stroke-linecap="butt" />
<line x1="1740.60" y1="521.75" x2="1740.60" y2="523.20" stroke="#000" stroke-width="1.4" stroke-linecap="butt" />
<line x1="1740.60" y1="550.00" x2="1740.60" y2="551.45" stroke="#000" stroke-width="1.4" stroke-linecap="butt" />
<line x1="1734.80" y1="523.20" x2="1746.40" y2="523.20" stroke="#000" stroke-width="1.5" stroke-linecap="butt" />
<line x1="1734.80" y1="550.00" x2="1746.40" y2="550.00" stroke="#000" stroke-width="1.5" stroke-linecap="butt" />
<line x1="1789.30" y1="586.20" x2="1789.30" y2="596.35" stroke="#000" stroke-width="1.4" stroke-linecap="butt" />
<line x1="1789.30" y1="626.05" x2="1789.30" y2="636.20" stroke="#000" stroke-width="1.4" stroke-linecap="butt" />
<line x1="1783.50" y1="586.20" x2="1795.10" y2="586.20" stroke="#000" stroke-width="1.5" stroke-linecap="butt" />
<line x1="1783.50" y1="636.20" x2="1795.10" y2="636.20" stroke="#000" stroke-width="1.5" stroke-linecap="butt" />
<line x1="1222.80" y1="352.15" x2="1222.80" y2="365.30" stroke="#000" stroke-width="1.4" stroke-linecap="butt" />
<line x1="1222.80" y1="368.70" x2="1222.80" y2="381.85" stroke="#000" stroke-width="1.4" stroke-linecap="butt" />
<line x1="1217.00" y1="365.30" x2="1228.60" y2="365.30" stroke="#000" stroke-width="1.5" stroke-linecap="butt" />
<line x1="1217.00" y1="368.70" x2="1228.60" y2="368.70" stroke="#000" stroke-width="1.5" stroke-linecap="butt" />
<line x1="1293.40" y1="341.95" x2="1293.40" y2="351.90" stroke="#000" stroke-width="1.4" stroke-linecap="butt" />
<line x1="1293.40" y1="361.70" x2="1293.40" y2="371.65" stroke="#000" stroke-width="1.4" stroke-linecap="butt" />
<line x1="1287.60" y1="351.90" x2="1299.20" y2="351.90" stroke="#000" stroke-width="1.5" stroke-linecap="butt" />
<line x1="1287.60" y1="361.70" x2="1299.20" y2="361.70" stroke="#000" stroke-width="1.5" stroke-linecap="butt" />
<line x1="1352.40" y1="361.75" x2="1352.40" y2="367.40" stroke="#000" stroke-width="1.4" stroke-linecap="butt" />
<line x1="1352.40" y1="385.80" x2="1352.40" y2="391.45" stroke="#000" stroke-width="1.4" stroke-linecap="butt" />
<line x1="1346.60" y1="367.40" x2="1358.20" y2="367.40" stroke="#000" stroke-width="1.5" stroke-linecap="butt" />
<line x1="1346.60" y1="385.80" x2="1358.20" y2="385.80" stroke="#000" stroke-width="1.5" stroke-linecap="butt" />
<line x1="1512.50" y1="381.65" x2="1512.50" y2="388.10" stroke="#000" stroke-width="1.4" stroke-linecap="butt" />
<line x1="1512.50" y1="404.90" x2="1512.50" y2="411.35" stroke="#000" stroke-width="1.4" stroke-linecap="butt" />
<line x1="1506.70" y1="388.10" x2="1518.30" y2="388.10" stroke="#000" stroke-width="1.5" stroke-linecap="butt" />
<line x1="1506.70" y1="404.90" x2="1518.30" y2="404.90" stroke="#000" stroke-width="1.5" stroke-linecap="butt" />
<line x1="1663.40" y1="487.50" x2="1663.40" y2="489.65" stroke="#000" stroke-width="1.4" stroke-linecap="butt" />
<line x1="1663.40" y1="519.35" x2="1663.40" y2="521.50" stroke="#000" stroke-width="1.4" stroke-linecap="butt" />
<line x1="1657.60" y1="487.50" x2="1669.20" y2="487.50" stroke="#000" stroke-width="1.5" stroke-linecap="butt" />
<line x1="1657.60" y1="521.50" x2="1669.20" y2="521.50" stroke="#000" stroke-width="1.5" stroke-linecap="butt" />
<line x1="1740.60" y1="557.05" x2="1740.60" y2="560.00" stroke="#000" stroke-width="1.4" stroke-linecap="butt" />
<line x1="1740.60" y1="583.80" x2="1740.60" y2="586.75" stroke="#000" stroke-width="1.4" stroke-linecap="butt" />
<line x1="1734.80" y1="560.00" x2="1746.40" y2="560.00" stroke="#000" stroke-width="1.5" stroke-linecap="butt" />
<line x1="1734.80" y1="583.80" x2="1746.40" y2="583.80" stroke="#000" stroke-width="1.5" stroke-linecap="butt" />
<line x1="1789.30" y1="592.10" x2="1789.30" y2="595.65" stroke="#000" stroke-width="1.4" stroke-linecap="butt" />
<line x1="1789.30" y1="625.35" x2="1789.30" y2="628.90" stroke="#000" stroke-width="1.4" stroke-linecap="butt" />
<line x1="1783.50" y1="592.10" x2="1795.10" y2="592.10" stroke="#000" stroke-width="1.5" stroke-linecap="butt" />
<line x1="1783.50" y1="628.90" x2="1795.10" y2="628.90" stroke="#000" stroke-width="1.5" stroke-linecap="butt" />
<line x1="1222.80" y1="352.35" x2="1222.80" y2="358.80" stroke="#000" stroke-width="1.4" stroke-linecap="butt" />
<line x1="1222.80" y1="375.60" x2="1222.80" y2="382.05" stroke="#000" stroke-width="1.4" stroke-linecap="butt" />
<line x1="1217.00" y1="358.80" x2="1228.60" y2="358.80" stroke="#000" stroke-width="1.5" stroke-linecap="butt" />
<line x1="1217.00" y1="375.60" x2="1228.60" y2="375.60" stroke="#000" stroke-width="1.5" stroke-linecap="butt" />
<line x1="1293.40" y1="351.45" x2="1293.40" y2="365.10" stroke="#000" stroke-width="1.4" stroke-linecap="butt" />
<line x1="1293.40" y1="367.50" x2="1293.40" y2="381.15" stroke="#000" stroke-width="1.4" stroke-linecap="butt" />
<line x1="1287.60" y1="365.10" x2="1299.20" y2="365.10" stroke="#000" stroke-width="1.5" stroke-linecap="butt" />
<line x1="1287.60" y1="367.50" x2="1299.20" y2="367.50" stroke="#000" stroke-width="1.5" stroke-linecap="butt" />
<line x1="1352.40" y1="361.05" x2="1352.40" y2="370.00" stroke="#000" stroke-width="1.4" stroke-linecap="butt" />
<line x1="1352.40" y1="381.80" x2="1352.40" y2="390.75" stroke="#000" stroke-width="1.4" stroke-linecap="butt" />
<line x1="1346.60" y1="370.00" x2="1358.20" y2="370.00" stroke="#000" stroke-width="1.5" stroke-linecap="butt" />
<line x1="1346.60" y1="381.80" x2="1358.20" y2="381.80" stroke="#000" stroke-width="1.5" stroke-linecap="butt" />
<line x1="1512.50" y1="375.05" x2="1512.50" y2="386.00" stroke="#000" stroke-width="1.4" stroke-linecap="butt" />
<line x1="1512.50" y1="393.80" x2="1512.50" y2="404.75" stroke="#000" stroke-width="1.4" stroke-linecap="butt" />
<line x1="1506.70" y1="386.00" x2="1518.30" y2="386.00" stroke="#000" stroke-width="1.5" stroke-linecap="butt" />
<line x1="1506.70" y1="393.80" x2="1518.30" y2="393.80" stroke="#000" stroke-width="1.5" stroke-linecap="butt" />
<line x1="1663.40" y1="464.35" x2="1663.40" y2="467.20" stroke="#000" stroke-width="1.4" stroke-linecap="butt" />
<line x1="1663.40" y1="491.20" x2="1663.40" y2="494.05" stroke="#000" stroke-width="1.4" stroke-linecap="butt" />
<line x1="1657.60" y1="467.20" x2="1669.20" y2="467.20" stroke="#000" stroke-width="1.5" stroke-linecap="butt" />
<line x1="1657.60" y1="491.20" x2="1669.20" y2="491.20" stroke="#000" stroke-width="1.5" stroke-linecap="butt" />
<line x1="1740.60" y1="482.20" x2="1740.60" y2="486.05" stroke="#000" stroke-width="1.4" stroke-linecap="butt" />
<line x1="1740.60" y1="515.75" x2="1740.60" y2="519.60" stroke="#000" stroke-width="1.4" stroke-linecap="butt" />
<line x1="1734.80" y1="482.20" x2="1746.40" y2="482.20" stroke="#000" stroke-width="1.5" stroke-linecap="butt" />
<line x1="1734.80" y1="519.60" x2="1746.40" y2="519.60" stroke="#000" stroke-width="1.5" stroke-linecap="butt" />
<line x1="1789.30" y1="541.70" x2="1789.30" y2="548.35" stroke="#000" stroke-width="1.4" stroke-linecap="butt" />
<line x1="1789.30" y1="578.05" x2="1789.30" y2="584.70" stroke="#000" stroke-width="1.4" stroke-linecap="butt" />
<line x1="1783.50" y1="541.70" x2="1795.10" y2="541.70" stroke="#000" stroke-width="1.5" stroke-linecap="butt" />
<line x1="1783.50" y1="584.70" x2="1795.10" y2="584.70" stroke="#000" stroke-width="1.5" stroke-linecap="butt" />
<line x1="1222.80" y1="300.75" x2="1222.80" y2="311.40" stroke="#000" stroke-width="1.4" stroke-linecap="butt" />
<line x1="1222.80" y1="319.80" x2="1222.80" y2="330.45" stroke="#000" stroke-width="1.4" stroke-linecap="butt" />
<line x1="1217.00" y1="311.40" x2="1228.60" y2="311.40" stroke="#000" stroke-width="1.5" stroke-linecap="butt" />
<line x1="1217.00" y1="319.80" x2="1228.60" y2="319.80" stroke="#000" stroke-width="1.5" stroke-linecap="butt" />
<line x1="1293.40" y1="292.25" x2="1293.40" y2="304.50" stroke="#000" stroke-width="1.4" stroke-linecap="butt" />
<line x1="1293.40" y1="309.70" x2="1293.40" y2="321.95" stroke="#000" stroke-width="1.4" stroke-linecap="butt" />
<line x1="1287.60" y1="304.50" x2="1299.20" y2="304.50" stroke="#000" stroke-width="1.5" stroke-linecap="butt" />
<line x1="1287.60" y1="309.70" x2="1299.20" y2="309.70" stroke="#000" stroke-width="1.5" stroke-linecap="butt" />
<line x1="1352.40" y1="307.15" x2="1352.40" y2="318.50" stroke="#000" stroke-width="1.4" stroke-linecap="butt" />
<line x1="1352.40" y1="325.50" x2="1352.40" y2="336.85" stroke="#000" stroke-width="1.4" stroke-linecap="butt" />
<line x1="1346.60" y1="318.50" x2="1358.20" y2="318.50" stroke="#000" stroke-width="1.5" stroke-linecap="butt" />
<line x1="1346.60" y1="325.50" x2="1358.20" y2="325.50" stroke="#000" stroke-width="1.5" stroke-linecap="butt" />
<line x1="1512.50" y1="338.65" x2="1512.50" y2="346.00" stroke="#000" stroke-width="1.4" stroke-linecap="butt" />
<line x1="1512.50" y1="361.00" x2="1512.50" y2="368.35" stroke="#000" stroke-width="1.4" stroke-linecap="butt" />
<line x1="1506.70" y1="346.00" x2="1518.30" y2="346.00" stroke="#000" stroke-width="1.5" stroke-linecap="butt" />
<line x1="1506.70" y1="361.00" x2="1518.30" y2="361.00" stroke="#000" stroke-width="1.5" stroke-linecap="butt" />
<line x1="1663.40" y1="435.75" x2="1663.40" y2="437.10" stroke="#000" stroke-width="1.4" stroke-linecap="butt" />
<line x1="1663.40" y1="464.10" x2="1663.40" y2="465.45" stroke="#000" stroke-width="1.4" stroke-linecap="butt" />
<line x1="1657.60" y1="437.10" x2="1669.20" y2="437.10" stroke="#000" stroke-width="1.5" stroke-linecap="butt" />
<line x1="1657.60" y1="464.10" x2="1669.20" y2="464.10" stroke="#000" stroke-width="1.5" stroke-linecap="butt" />
<line x1="1740.60" y1="502.75" x2="1740.60" y2="505.60" stroke="#000" stroke-width="1.4" stroke-linecap="butt" />
<line x1="1740.60" y1="529.60" x2="1740.60" y2="532.45" stroke="#000" stroke-width="1.4" stroke-linecap="butt" />
<line x1="1734.80" y1="505.60" x2="1746.40" y2="505.60" stroke="#000" stroke-width="1.5" stroke-linecap="butt" />
<line x1="1734.80" y1="529.60" x2="1746.40" y2="529.60" stroke="#000" stroke-width="1.5" stroke-linecap="butt" />
<line x1="1789.30" y1="541.40" x2="1789.30" y2="546.55" stroke="#000" stroke-width="1.4" stroke-linecap="butt" />
<line x1="1789.30" y1="576.25" x2="1789.30" y2="581.40" stroke="#000" stroke-width="1.4" stroke-linecap="butt" />
<line x1="1783.50" y1="541.40" x2="1795.10" y2="541.40" stroke="#000" stroke-width="1.5" stroke-linecap="butt" />
<line x1="1783.50" y1="581.40" x2="1795.10" y2="581.40" stroke="#000" stroke-width="1.5" stroke-linecap="butt" />
<line x1="1168.40" y1="263.70" x2="1872.95" y2="263.70" stroke="#000" stroke-width="4.1" stroke-linecap="butt" />
<line x1="1168.40" y1="878.30" x2="1872.95" y2="878.30" stroke="#000" stroke-width="4.1" stroke-linecap="butt" />
<line x1="1182.00" y1="261.65" x2="1182.00" y2="880.35" stroke="#000" stroke-width="4.1" stroke-linecap="butt" />
<line x1="1870.90" y1="261.65" x2="1870.90" y2="880.35" stroke="#000" stroke-width="4.1" stroke-linecap="butt" />
<line x1="1168.40" y1="413.36" x2="1182.00" y2="413.36" stroke="#000" stroke-width="4.1" stroke-linecap="butt" />
<line x1="1168.40" y1="606.33" x2="1182.00" y2="606.33" stroke="#000" stroke-width="4.1" stroke-linecap="butt" />
<line x1="1175.10" y1="814.37" x2="1182.00" y2="814.37" stroke="#000" stroke-width="4.1" stroke-linecap="butt" />
<line x1="1175.10" y1="756.00" x2="1182.00" y2="756.00" stroke="#000" stroke-width="4.1" stroke-linecap="butt" />
<line x1="1175.10" y1="702.31" x2="1182.00" y2="702.31" stroke="#000" stroke-width="4.1" stroke-linecap="butt" />
<line x1="1175.10" y1="652.61" x2="1182.00" y2="652.61" stroke="#000" stroke-width="4.1" stroke-linecap="butt" />
<line x1="1175.10" y1="563.04" x2="1182.00" y2="563.04" stroke="#000" stroke-width="4.1" stroke-linecap="butt" />
<line x1="1175.10" y1="522.37" x2="1182.00" y2="522.37" stroke="#000" stroke-width="4.1" stroke-linecap="butt" />
<line x1="1175.10" y1="484.03" x2="1182.00" y2="484.03" stroke="#000" stroke-width="4.1" stroke-linecap="butt" />
<line x1="1175.10" y1="447.77" x2="1182.00" y2="447.77" stroke="#000" stroke-width="4.1" stroke-linecap="butt" />
<line x1="1175.10" y1="380.63" x2="1182.00" y2="380.63" stroke="#000" stroke-width="4.1" stroke-linecap="butt" />
<line x1="1175.10" y1="349.43" x2="1182.00" y2="349.43" stroke="#000" stroke-width="4.1" stroke-linecap="butt" />
<line x1="1175.10" y1="319.61" x2="1182.00" y2="319.61" stroke="#000" stroke-width="4.1" stroke-linecap="butt" />
<line x1="1175.10" y1="291.06" x2="1182.00" y2="291.06" stroke="#000" stroke-width="4.1" stroke-linecap="butt" />
<line x1="1224.10" y1="878.30" x2="1224.10" y2="891.30" stroke="#000" stroke-width="4.1" stroke-linecap="butt" />
<line x1="1354.34" y1="878.30" x2="1354.34" y2="891.30" stroke="#000" stroke-width="4.1" stroke-linecap="butt" />
<line x1="1518.42" y1="878.30" x2="1518.42" y2="891.30" stroke="#000" stroke-width="4.1" stroke-linecap="butt" />
<line x1="1741.06" y1="878.30" x2="1741.06" y2="891.30" stroke="#000" stroke-width="4.1" stroke-linecap="butt" />
<line x1="1576.98" y1="878.30" x2="1576.98" y2="884.70" stroke="#000" stroke-width="4.1" stroke-linecap="butt" />
<line x1="1626.49" y1="878.30" x2="1626.49" y2="884.70" stroke="#000" stroke-width="4.1" stroke-linecap="butt" />
<line x1="1669.38" y1="878.30" x2="1669.38" y2="884.70" stroke="#000" stroke-width="4.1" stroke-linecap="butt" />
<line x1="1707.22" y1="878.30" x2="1707.22" y2="884.70" stroke="#000" stroke-width="4.1" stroke-linecap="butt" />
<line x1="1191.2" y1="102.3" x2="1240.0" y2="102.3" stroke="#cc0000" stroke-width="5.9" stroke-linecap="round" stroke-dasharray="26 18.6 2.5 18.6" stroke-opacity="1.0"/>
<rect x="1209.80" y="88.30" width="28" height="28" fill="#cc0000" fill-opacity="0.85" stroke="#000" stroke-width="1.5"/>
<text x="1265" y="112.7" font-family="Liberation Sans, sans-serif" font-size="29.3"><tspan font-style="italic">f</tspan><tspan font-size="19.8" dy="6.7">Cen-Mic</tspan><tspan dy="-6.7"> (Loc. 1.4)</tspan></text>
<line x1="1191.2" y1="144.9" x2="1255.7" y2="144.9" stroke="#ff3232" stroke-width="5.0" stroke-linecap="round" stroke-dasharray="22.2 30.6" stroke-opacity="0.96"/>
<rect x="1209.80" y="130.90" width="28" height="28" fill="#fb3434" fill-opacity="0.85" stroke="#000" stroke-width="1.5"/>
<text x="1265" y="155.3" font-family="Liberation Sans, sans-serif" font-size="29.3"><tspan font-style="italic">f</tspan><tspan font-size="19.8" dy="6.7">Cen-Mic</tspan><tspan dy="-6.7"> (Loc. 2.3)</tspan></text>
<line x1="1191.2" y1="187.1" x2="1255.7" y2="187.1" stroke="#f08018" stroke-width="5.5" stroke-linecap="round" stroke-dasharray="3.0 28.5" stroke-opacity="0.95"/>
<rect x="1209.80" y="173.10" width="28" height="28" fill="#f07e1e" fill-opacity="0.85" stroke="#000" stroke-width="1.5"/>
<text x="1265" y="197.5" font-family="Liberation Sans, sans-serif" font-size="29.3"><tspan font-style="italic">f</tspan><tspan font-size="19.8" dy="6.7">Cen-Mic</tspan><tspan dy="-6.7"> (Loc. 3.2)</tspan></text>
<line x1="1191.2" y1="229.2" x2="1255.7" y2="229.2" stroke="#ebe030" stroke-width="5.3" stroke-linecap="round" stroke-opacity="0.95"/>
<rect x="1209.80" y="215.20" width="28" height="28" fill="#e8dc22" fill-opacity="0.85" stroke="#000" stroke-width="1.5"/>
<text x="1265" y="239.6" font-family="Liberation Sans, sans-serif" font-size="29.3"><tspan font-style="italic">f</tspan><tspan font-size="19.8" dy="6.7">Cen-Mic</tspan><tspan dy="-6.7"> (Loc. 4.1)</tspan></text>
<g transform="translate(1195.6,520.3) scale(1.112,1)"><text x="0" y="0" font-family="Liberation Sans, sans-serif" font-size="36">Impact locations</text></g>
<rect x="1205.7" y="542.3" width="267.2" height="266.1" fill="#fff" stroke="#000" stroke-width="4.8"/>
<g transform="translate(1341.7,607.2) scale(1.124,1)"><text x="0" y="0" font-family="Liberation Sans, sans-serif" font-size="36" text-anchor="middle">PMA Plate</text></g>
<circle cx="1229.4" cy="564.5" r="4.0" fill="none" stroke="#000" stroke-width="1.6" stroke-dasharray="1.5 1.64"/>
<circle cx="1229.4" cy="621.6" r="4.0" fill="none" stroke="#000" stroke-width="1.6" stroke-dasharray="1.5 1.64"/>
<circle cx="1229.4" cy="677.5" r="4.0" fill="none" stroke="#000" stroke-width="1.6" stroke-dasharray="1.5 1.64"/>
<circle cx="1229.4" cy="733.2" r="4.0" fill="none" stroke="#000" stroke-width="1.6" stroke-dasharray="1.5 1.64"/>
<circle cx="1229.4" cy="788.8" r="4.0" fill="none" stroke="#000" stroke-width="1.6" stroke-dasharray="1.5 1.64"/>
<circle cx="1285.1" cy="564.5" r="4.0" fill="none" stroke="#000" stroke-width="1.6" stroke-dasharray="1.5 1.64"/>
<circle cx="1285.1" cy="788.8" r="4.0" fill="none" stroke="#000" stroke-width="1.6" stroke-dasharray="1.5 1.64"/>
<circle cx="1340.0" cy="564.5" r="4.0" fill="none" stroke="#000" stroke-width="1.6" stroke-dasharray="1.5 1.64"/>
<circle cx="1340.0" cy="788.8" r="4.0" fill="none" stroke="#000" stroke-width="1.6" stroke-dasharray="1.5 1.64"/>
<circle cx="1395.5" cy="564.5" r="4.0" fill="none" stroke="#000" stroke-width="1.6" stroke-dasharray="1.5 1.64"/>
<circle cx="1395.5" cy="788.8" r="4.0" fill="none" stroke="#000" stroke-width="1.6" stroke-dasharray="1.5 1.64"/>
<circle cx="1451.9" cy="564.5" r="4.0" fill="none" stroke="#000" stroke-width="1.6" stroke-dasharray="1.5 1.64"/>
<circle cx="1451.9" cy="621.6" r="4.0" fill="none" stroke="#000" stroke-width="1.6" stroke-dasharray="1.5 1.64"/>
<circle cx="1451.9" cy="677.5" r="4.0" fill="none" stroke="#000" stroke-width="1.6" stroke-dasharray="1.5 1.64"/>
<circle cx="1451.9" cy="733.2" r="4.0" fill="none" stroke="#000" stroke-width="1.6" stroke-dasharray="1.5 1.64"/>
<circle cx="1451.9" cy="788.8" r="4.0" fill="none" stroke="#000" stroke-width="1.6" stroke-dasharray="1.5 1.64"/>
<line x1="1335.00" y1="675.90" x2="1353.40" y2="675.90" stroke="#c00000" stroke-width="5.5" stroke-linecap="butt" />
<line x1="1344.20" y1="666.70" x2="1344.20" y2="685.10" stroke="#c00000" stroke-width="5.5" stroke-linecap="butt" />
<text x="1367.20" y="690.30" font-family="Liberation Sans, sans-serif" font-size="29.3" text-anchor="start" >1.4</text>
<line x1="1307.60" y1="703.30" x2="1326.00" y2="703.30" stroke="#c00000" stroke-width="5.5" stroke-linecap="butt" />
<line x1="1316.80" y1="694.10" x2="1316.80" y2="712.50" stroke="#c00000" stroke-width="5.5" stroke-linecap="butt" />
<text x="1345.00" y="717.30" font-family="Liberation Sans, sans-serif" font-size="29.3" text-anchor="start" >2.3</text>
<line x1="1279.70" y1="731.60" x2="1298.10" y2="731.60" stroke="#c00000" stroke-width="5.5" stroke-linecap="butt" />
<line x1="1288.90" y1="722.40" x2="1288.90" y2="740.80" stroke="#c00000" stroke-width="5.5" stroke-linecap="butt" />
<text x="1317.50" y="744.60" font-family="Liberation Sans, sans-serif" font-size="29.3" text-anchor="start" >3.2</text>
<line x1="1253.50" y1="760.00" x2="1271.90" y2="760.00" stroke="#c00000" stroke-width="5.5" stroke-linecap="butt" />
<line x1="1262.70" y1="750.80" x2="1262.70" y2="769.20" stroke="#c00000" stroke-width="5.5" stroke-linecap="butt" />
<text x="1290.00" y="772.60" font-family="Liberation Sans, sans-serif" font-size="29.3" text-anchor="start" >4.1</text>
<circle cx="1217.3" cy="797.3" r="8.7" fill="none" stroke="#c00000" stroke-width="1.9"/>
<line x1="1217.30" y1="797.30" x2="1217.30" y2="776.50" stroke="#c00000" stroke-width="3.2" stroke-linecap="butt" />
<line x1="1217.30" y1="797.30" x2="1238.00" y2="797.30" stroke="#c00000" stroke-width="3.2" stroke-linecap="butt" />
<polygon points="1217.3,769.8 1212.3999999999999,779.4 1217.3,776.4 1222.2,779.4" fill="#c00000"/>
<polygon points="1244.8,797.3 1235.2,792.4 1238.2,797.3 1235.2,802.1999999999999" fill="#c00000"/>
<circle cx="1217.3" cy="797.3" r="3.3" fill="#ff0000"/>
</svg></body></html>
